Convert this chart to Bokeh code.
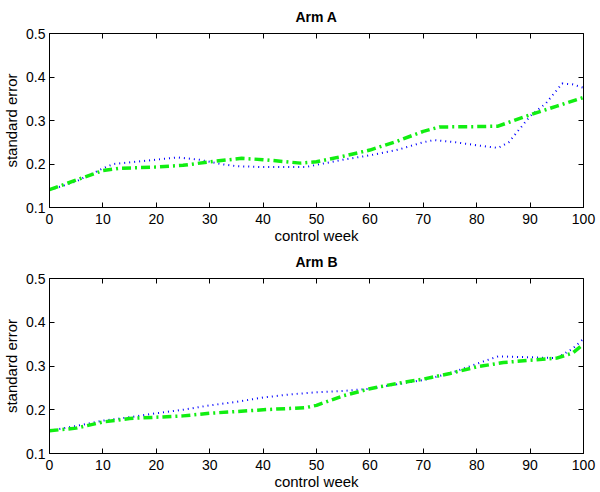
from bokeh.plotting import figure
from bokeh.models import LinearAxis, FixedTicker, Range1d
from bokeh.layouts import column
from bokeh.embed import file_html
from bokeh.resources import INLINE

# ---- data ----
a_blue_x = [0, 5, 10, 12, 16, 20, 24, 28, 32, 35, 40, 44, 48, 50, 55, 60, 65, 70, 72, 76, 80, 84, 86, 88, 90, 93, 96, 98, 100]
a_blue_y = [0.140, 0.160, 0.190, 0.200, 0.205, 0.210, 0.215, 0.210, 0.200, 0.195, 0.193, 0.193, 0.193, 0.198, 0.210, 0.220, 0.232, 0.250, 0.255, 0.250, 0.243, 0.237, 0.250, 0.280, 0.310, 0.340, 0.385, 0.383, 0.375]
a_green_x = [0, 5, 10, 13, 20, 25, 30, 36, 40, 47, 50, 55, 60, 65, 70, 73, 80, 84, 87, 90, 95, 100]
a_green_y = [0.141, 0.163, 0.185, 0.190, 0.193, 0.197, 0.205, 0.213, 0.210, 0.202, 0.205, 0.218, 0.232, 0.252, 0.275, 0.285, 0.286, 0.287, 0.300, 0.313, 0.333, 0.353]

b_blue_x = [0, 5, 10, 15, 20, 25, 30, 35, 40, 45, 50, 55, 60, 65, 70, 75, 80, 84, 90, 95, 98, 100]
b_blue_y = [0.152, 0.163, 0.175, 0.183, 0.192, 0.200, 0.210, 0.218, 0.228, 0.235, 0.240, 0.243, 0.248, 0.258, 0.268, 0.283, 0.305, 0.322, 0.320, 0.318, 0.340, 0.362]
b_green_x = [0, 5, 10, 15, 20, 25, 30, 35, 40, 45, 48, 50, 55, 60, 65, 70, 75, 80, 85, 90, 95, 98, 100]
b_green_y = [0.152, 0.158, 0.172, 0.180, 0.183, 0.186, 0.192, 0.196, 0.200, 0.203, 0.205, 0.210, 0.232, 0.248, 0.260, 0.270, 0.283, 0.298, 0.308, 0.313, 0.318, 0.330, 0.350]

x_ticks = [0, 10, 20, 30, 40, 50, 60, 70, 80, 90, 100]
y_ticks = [0.1, 0.2, 0.3, 0.4, 0.5]

FONT = "Liberation Sans"


def make_panel(title, bx, by, gx, gy, height, top, bottom):
    p = figure(width=600, height=height, output_backend="svg", toolbar_location=None,
               x_range=Range1d(0, 100), y_range=Range1d(0.1, 0.5),
               min_border_left=49, min_border_right=17,
               min_border_top=top, min_border_bottom=bottom,
               x_axis_label="control week", y_axis_label="standard error")
    p.title.text = title
    p.title.align = "center"
    p.title.vertical_align = "top"
    p.title.text_font = FONT
    p.title.text_font_size = "14px"
    p.title.text_font_style = "bold"
    p.title.text_color = "black"
    p.title.standoff = 14
    p.grid.visible = False
    p.outline_line_color = "black"
    p.outline_line_width = 1
    p.background_fill_color = "white"
    p.border_fill_color = "white"

    for ax in (p.xaxis[0], p.yaxis[0]):
        ax.major_tick_in = 5
        ax.major_tick_out = 0
        ax.minor_tick_line_color = None
        ax.axis_line_color = "black"
        ax.major_tick_line_color = "black"
        ax.major_label_text_font = FONT
        ax.major_label_text_font_size = "14px"
        ax.major_label_text_color = "black"
        ax.axis_label_text_font = FONT
        ax.axis_label_text_font_size = "15px"
        ax.axis_label_text_font_style = "normal"
        ax.axis_label_text_color = "black"
    p.xaxis[0].ticker = FixedTicker(ticks=x_ticks)
    p.yaxis[0].ticker = FixedTicker(ticks=y_ticks)
    p.xaxis[0].major_label_standoff = 6
    p.xaxis[0].axis_label_standoff = 0
    p.yaxis[0].major_label_standoff = 4
    p.yaxis[0].axis_label_standoff = 3

    # box ticks on top and right (Matlab style), no labels
    for loc, tk in (("above", x_ticks), ("right", y_ticks)):
        ax = LinearAxis(ticker=FixedTicker(ticks=tk), major_label_text_color=None,
                        major_label_text_font_size="1px",
                        major_label_standoff=0, axis_line_color=None,
                        major_tick_in=5, major_tick_out=0,
                        major_tick_line_color="black", minor_tick_line_color=None)
        p.add_layout(ax, loc)

    p.line(bx, by, line_color="#0000ff", line_width=2, line_dash="1 4")
    p.line(gx, gy, line_color="#11ee11", line_width=3.5, line_dash="9 4 2 4")
    return p


p1 = make_panel("Arm A", a_blue_x, a_blue_y, a_green_x, a_green_y, 246, 33, 38)
p2 = make_panel("Arm B", b_blue_x, b_blue_y, b_green_x, b_green_y, 246, 32, 39)

layout = column(p1, p2, spacing=0)
open("out.html", "w").write(file_html(layout, INLINE))
